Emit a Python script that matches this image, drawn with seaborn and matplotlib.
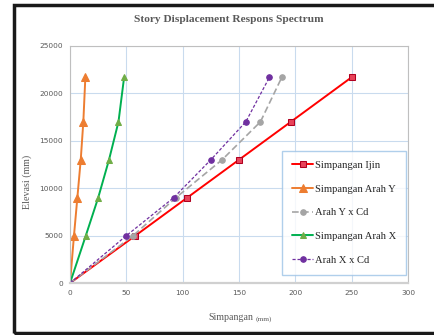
import pandas as pd
import matplotlib
matplotlib.use("Agg")
import matplotlib.pyplot as plt
import seaborn as sns
from matplotlib.patches import Rectangle

# data (x = simpangan mm, y = elevasi mm)
elevasi = [0, 5000, 9000, 13000, 17000, 21700]
simpangan_ijin = [0, 58, 104, 150, 196, 250]
simpangan_y = [0, 3.5, 6.5, 9.5, 11.8, 13.6]
arah_y_cd = [0, 56, 94, 135, 169, 188]
simpangan_x = [0, 14, 25, 34.6, 43, 48]
arah_x_cd = [0, 50, 92, 125, 156, 177]

sns.set_theme(style="white")
plt.rcParams['font.family'] = ['Liberation Serif', 'DejaVu Serif']

fig = plt.figure(figsize=(4.35, 3.35), dpi=100)
ax = fig.add_axes([0.161, 0.155, 0.777, 0.708])

series = [
    ("Simpangan Ijin", simpangan_ijin, dict(color="#FF0000", marker="s", markersize=4,
        markerfacecolor="#E8435A", markeredgecolor="#B00020", linewidth=1.4)),
    ("Simpangan Arah Y", simpangan_y, dict(color="#ED7D31", marker="^", markersize=5.5,
        markerfacecolor="#ED7D31", markeredgecolor="#ED7D31", linewidth=1.4)),
    ("Arah Y x Cd", arah_y_cd, dict(color="#A5A5A5", marker="o", markersize=4,
        markerfacecolor="#A5A5A5", markeredgecolor="#A5A5A5", linewidth=1.2, dashes=(4, 2))),
    ("Simpangan Arah X", simpangan_x, dict(color="#00B050", marker="^", markersize=4.5,
        markerfacecolor="#70AD47", markeredgecolor="#70AD47", linewidth=1.4)),
    ("Arah X x Cd", arah_x_cd, dict(color="#7030A0", marker="o", markersize=4,
        markerfacecolor="#7030A0", markeredgecolor="#7030A0", linewidth=0.9, dashes=(2.5, 1.5))),
]

for name, xs, style in series:
    df = pd.DataFrame({"simpangan": xs, "elevasi": elevasi})
    sns.lineplot(data=df, x="simpangan", y="elevasi", ax=ax, label=name,
                 sort=False, estimator=None, **style)

ax.set_xlim(0, 300)
ax.set_ylim(0, 25000)
ax.set_xticks(range(0, 301, 50))
ax.set_yticks(range(0, 25001, 5000))
ax.grid(True, color="#C9DBEE", linewidth=0.8)
ax.set_axisbelow(True)
for side in ["top", "right", "left"]:
    ax.spines[side].set_color("#BFBFBF")
    ax.spines[side].set_linewidth(0.8)
ax.spines["bottom"].set_color("#D0D0D0")
ax.spines["bottom"].set_linewidth(1.6)
ax.tick_params(length=0, labelsize=5.3, labelcolor="#595959", pad=5)
for lab in ax.get_xticklabels() + ax.get_yticklabels():
    lab.set_family("DejaVu Sans")
ax.set_xlabel("")
ax.set_ylabel("")

leg = ax.legend(loc="lower right", bbox_to_anchor=(0.995, 0.035), fontsize=7.6,
                frameon=True, fancybox=False, labelspacing=1.35, handlelength=2.0,
                handletextpad=0.15, borderpad=0.95, borderaxespad=0)
leg.get_frame().set_edgecolor("#9DC3E6")
leg.get_frame().set_linewidth(1.0)

fig.text(0.527, 0.942, "Story Displacement Respons Spectrum", ha="center", va="center",
         fontsize=8.2, fontweight="bold", color="#595959")
fig.text(0.062, 0.458, "Elevasi (mm)", rotation=90, ha="center", va="center",
         fontsize=7.2, color="#595959")
t1 = fig.text(0.478, 0.045, "Simpangan", ha="left", va="baseline", fontsize=7.1, color="#595959")
ax.annotate("(mm)", xy=(1, 0), xycoords=t1, xytext=(2, 0), textcoords="offset points",
            va="bottom", ha="left", fontsize=5.3, color="#595959")

# black frame around the chart
fig.patches.append(Rectangle((0.032, 0.007), 1.2, 0.978, transform=fig.transFigure,
                             fill=False, edgecolor="#1A1A1A", linewidth=2.5, clip_on=False))

fig.savefig("out.png", dpi=100)
